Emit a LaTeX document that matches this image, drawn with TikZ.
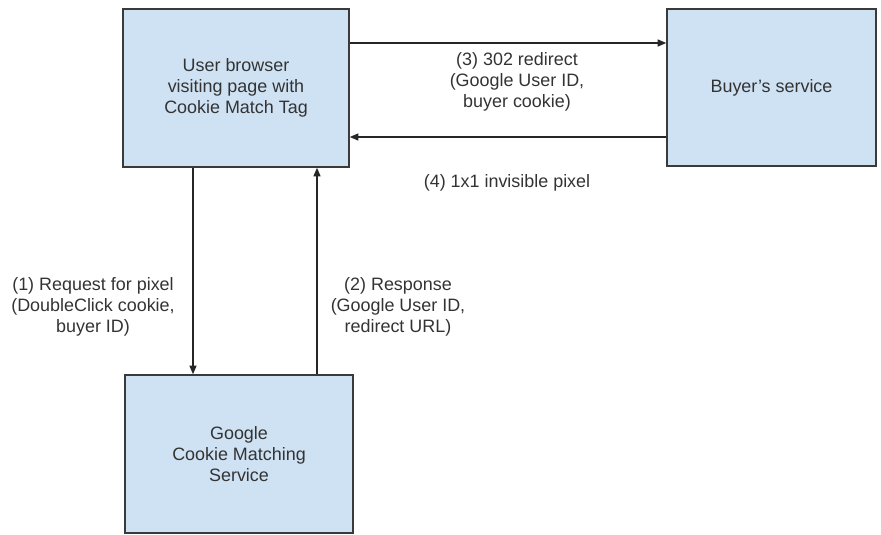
\documentclass[tikz,border=0pt]{standalone}
\usepackage{fontspec}
\setmainfont{Liberation Sans}
\usetikzlibrary{arrows.meta}
\definecolor{boxblue}{HTML}{CFE2F3}
\definecolor{boxline}{HTML}{3A3A3A}
\definecolor{txt}{HTML}{333333}
\tikzset{
  box/.style = {draw = boxline, line width = 0.9pt, fill = boxblue, text = txt,
    align = center, inner sep = 0pt},
  lbl/.style = {text = txt, align = center},
  flow/.style = {-{Triangle[length = 0.17cm, width = 0.14cm]}, line width = 0.7pt, draw = black!85}
}
\begin{document}
\begin{tikzpicture}[font = \fontsize{10.2}{12}\selectfont]
\useasboundingbox (0, 0) rectangle (17.62, -10.68);

\draw (4.72, -1.76) node[box, minimum width = 4.52cm, minimum height = 3.16cm] (user)
  {User browser\\visiting page with\\Cookie Match Tag};
\draw (15.43, -1.75) node[box, minimum width = 4.18cm, minimum height = 3.14cm] (buyer)
  {Buyer's service};
\draw (4.78, -9.08) node[box, minimum width = 4.56cm, minimum height = 3.16cm] (google)
  {Google\\Cookie Matching\\Service};

\draw (1.86, -6.14) node[lbl] (req) {(1) Request for pixel\\(DoubleClick cookie,\\buyer ID)};
\draw (7.96, -6.14) node[lbl] (resp) {(2) Response\\(Google User ID,\\redirect URL)};
\draw (10.34, -1.64) node[lbl] (redir) {(3) 302 redirect\\(Google User ID,\\buyer cookie)};
\draw (10.14, -3.66) node[lbl] (pix) {(4) 1x1 invisible pixel};

\draw[flow] ([xshift = -0.86cm]user.south) -- ([xshift = -0.86cm]user.south |- google.north);
\draw[flow] ([xshift = 1.62cm]user.south |- google.north) -- ([xshift = 1.62cm]user.south);
\draw[flow] ([yshift = 0.9cm]user.east) -- ([yshift = 0.9cm]user.east -| buyer.west);
\draw[flow] ([yshift = -0.98cm]user.east -| buyer.west) -- ([yshift = -0.98cm]user.east);

\end{tikzpicture}
\end{document}
